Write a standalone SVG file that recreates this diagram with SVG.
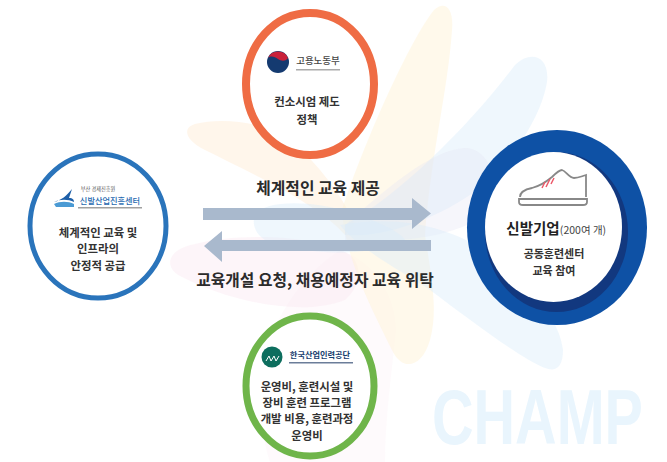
<svg xmlns="http://www.w3.org/2000/svg" width="667" height="462" viewBox="0 0 667 462">
<style>
text{font-family:"Noto Sans CJK KR","Liberation Sans",sans-serif;text-anchor:middle;fill:#2b2b2b}
.s{font-size:11.400px;font-weight:700;fill:#333}
.m{font-size:15.800px;font-weight:700}
.arrow{fill:#a9b9cd}
.yel{fill:#fff3d8;fill-opacity:.5}
.blu{fill:#d8edfb;fill-opacity:.42}
.pnk{fill:#fbe6f0;fill-opacity:.42}
.pnk2{fill:#fbe6f0;fill-opacity:.22}
.lav{fill:#e6e6f4;fill-opacity:.35}
.pch{fill:#ffeed8;fill-opacity:.5}
</style>
<rect width="667" height="462" fill="#fff"/>
<g id="background">
<path class="pnk2" d="M340 250C310 270 285 300 270 340C255 390 262 440 270 462H385C385 420 392 370 396 330C395 290 370 260 340 250Z"/>
<path class="pnk" d="M350 255C320 235 240 232 195 244C165 250 165 268 180 276C225 300 300 318 345 300C362 285 362 265 350 255Z"/>
<path class="pch" d="M345 235C320 205 255 175 205 150C185 140 182 128 195 124C220 118 260 120 290 140C320 165 345 200 355 225Z"/>
<path class="yel" d="M342 210C365 140 410 40 434 10C445 0 454 8 452 30C448 90 430 160 425 235C432 280 438 310 430 340C422 368 402 372 392 350C375 315 345 260 342 210Z"/>
<path class="blu" d="M345 225C400 195 470 125 515 65C530 50 550 55 547 82C540 125 500 175 470 195C430 222 380 238 345 235Z"/>
<path class="lav" d="M345 225C385 190 430 150 465 148C485 148 495 170 500 200C480 230 420 245 345 240Z"/>
<path class="blu" d="M340 225C400 215 450 225 500 260C530 285 560 320 563 350C563 368 555 372 545 368C520 358 470 320 430 290C400 270 360 250 340 225Z"/>
<path class="blu" d="M255 215C265 200 310 200 350 212C380 222 400 232 405 240C370 258 300 255 265 240C254 233 252 222 255 215Z"/>
<text transform="translate(537.500 444) scale(.738 1)" style="font-family:'Liberation Sans',sans-serif;font-size:78px;font-weight:700;fill:#e9f5fd">CHAMP</text>
</g>
<g id="connectors">
<polygon class="arrow" points="203,208 412,208 412,198 431,213.500 412,229 412,220 203,220"/>
<polygon class="arrow" points="431,240 222,240 222,231 204,246 222,262 222,251 431,251"/>
</g>
<g id="node-top">
<ellipse cx="310" cy="84" rx="64" ry="71" fill="#fff" stroke="#ef6c44" stroke-width="8"/>
<circle cx="278" cy="62" r="11" fill="#143a70"/>
<path d="M268 58a11 11 0 0 1 20 0c-3 4-7 3-10 1s-7-4-10-1Z" fill="#c8203a"/>
<text x="318" y="64" style="font-size:9.500px;font-weight:500;fill:#444">고용노동부</text>
<rect x="296" y="69" width="44" height="1.500" fill="#aaa"/>
<text class="s" x="307" y="106">컨소시엄 제도</text>
<text class="s" x="307" y="124">정책</text>
</g>
<g id="node-left">
<ellipse cx="98" cy="226" rx="68" ry="72" fill="#fff" stroke="#2a74bb" stroke-width="5"/>
<path d="M54 202C62 200 66 196 72 189L69 198C73 198 74 200 74 202C68 199 60 199 54 202Z" fill="#1d5fa8"/>
<path d="M54 204C60 201 68 201 74 204V207H56Z" fill="#4a9ad4"/>
<text x="98" y="191" style="font-size:5.200px;fill:#555">부산 경제진흥원</text>
<text x="110" y="204" style="font-size:8.200px;font-weight:500;fill:#1f6ab0">신발산업진흥센터</text>
<rect x="78" y="207" width="64" height="1.500" fill="#a0a0a0"/>
<text class="s" x="98" y="237">체계적인 교육 및</text>
<text class="s" x="98" y="253">인프라의</text>
<text class="s" x="98" y="270">안정적 공급</text>
</g>
<g id="node-right">
<ellipse cx="557" cy="227.500" rx="90" ry="97.500" fill="#0e51a5"/>
<ellipse cx="556.500" cy="232" rx="71.500" ry="80" fill="#12387f"/>
<ellipse cx="553.500" cy="227" rx="68.500" ry="75" fill="#fff"/>
<path d="M520 197C520 191 527 189 532 188C540 186 546 182 552 177C556 173 559 170 562 170C566 171 569 178 574 178C579 178 582 176 586 175V197" fill="none" stroke="#888" stroke-width="1.800"/>
<path d="M519 199H587V202C587 204 585 205 583 205H523C520 205 519 204 519 202Z" fill="none" stroke="#888" stroke-width="1.800"/>
<path d="M542 188l3-6M546 187l4-8M551 184l3-6" stroke="#ec5a6a" stroke-width="1.500" fill="none"/>
<text x="533" y="234" style="font-size:14.500px;font-weight:700;fill:#222">신발기업</text>
<text x="583" y="234" style="font-size:10.500px;fill:#444">(200여 개)</text>
<text x="554" y="258" style="font-size:11px;font-weight:700;fill:#333">공동훈련센터</text>
<text x="554" y="275" style="font-size:11px;font-weight:700;fill:#333">교육 참여</text>
</g>
<g id="node-bottom">
<ellipse cx="310" cy="386" rx="64" ry="70" fill="#fff" stroke="#6fb54a" stroke-width="7"/>
<circle cx="272" cy="357" r="10.500" fill="#0d6e5e"/>
<path d="M266 361l3-5 2 5 3-5 2 5 3-5" stroke="#fff" stroke-width="1" fill="none"/>
<text x="320" y="358" style="font-size:8.200px;font-weight:700;fill:#17406f">한국산업인력공단</text>
<rect x="289" y="362" width="64" height="1.500" fill="#6b7d99"/>
<text class="s" x="307" y="391">운영비, 훈련시설 및</text>
<text class="s" x="307" y="407">장비 훈련 프로그램</text>
<text class="s" x="307" y="423">개발 비용, 훈련과정</text>
<text class="s" x="307" y="440">운영비</text>
</g>
<g id="labels">
<text class="m" x="318" y="194">체계적인 교육 제공</text>
<text class="m" x="315" y="286">교육개설 요청, 채용예정자 교육 위탁</text>
</g>
</svg>
